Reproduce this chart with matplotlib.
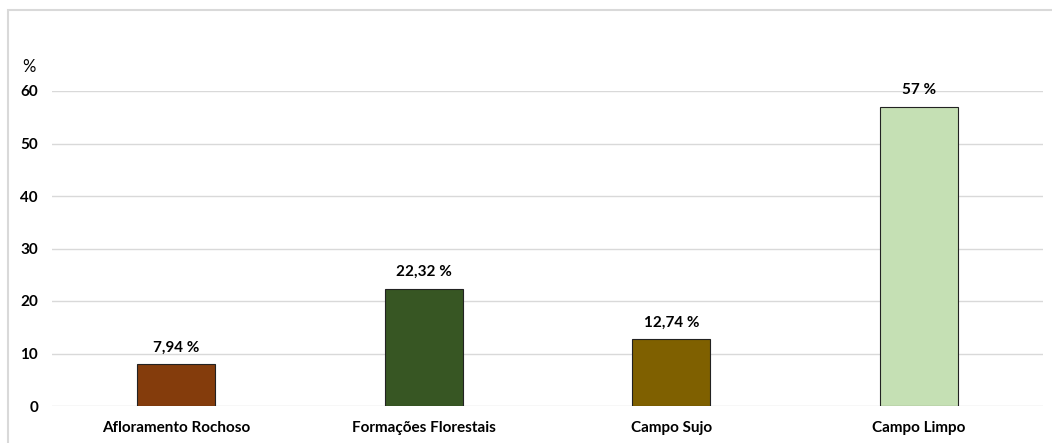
import matplotlib.pyplot as plt
from matplotlib.patches import Rectangle

categories = ['Afloramento Rochoso', 'Formações Florestais', 'Campo Sujo', 'Campo Limpo']
values = [7.94, 22.32, 12.74, 57]
value_labels = ['7,94 %', '22,32 %', '12,74 %', '57 %']
colors = ['#843C0C', '#375623', '#7F6000', '#C5E0B4']

plt.rcParams['font.family'] = ['Lato', 'DejaVu Sans']

W, H = 1052, 443
fig = plt.figure(figsize=(W / 100, H / 100), dpi=100)
ax = fig.add_axes([52 / W, 1 - 406 / H, (1043 - 52) / W, (406 - 91) / H])

x = range(len(categories))
ax.bar(x, values, width=0.315, color=colors, edgecolor='#222222', linewidth=0.8, zorder=3)
for i, (v, lab) in enumerate(zip(values, value_labels)):
    ax.annotate(lab, (i, v), xytext=(0, 7), textcoords='offset points',
                ha='center', va='bottom', fontsize=11, fontweight='bold', annotation_clip=False)

ax.set_xlim(-0.5, 3.5)
ax.set_ylim(0, 60)
ax.set_yticks(range(0, 61, 10))
ax.set_xticks(list(x))
ax.set_xticklabels(categories, fontsize=11, fontweight='bold')
for t in ax.get_yticklabels():
    t.set_fontsize(11)
    t.set_fontweight('bold')
ax.tick_params(axis='y', length=0, pad=10)
ax.tick_params(axis='x', length=0, pad=11)
ax.yaxis.grid(True, color='#D9D9D9', linewidth=1, zorder=0)
for s in ax.spines.values():
    s.set_visible(False)

fig.text(22 / W, 1 - 67 / H, '%', fontsize=12, ha='left', va='center')

fig.patches.append(Rectangle((7.5 / W, -0.1), 1.2, 1 - 9.5 / H + 0.1, transform=fig.transFigure,
                             fill=False, edgecolor='#D9D9D9', linewidth=1.5))

fig.savefig('out.png', dpi=100)
